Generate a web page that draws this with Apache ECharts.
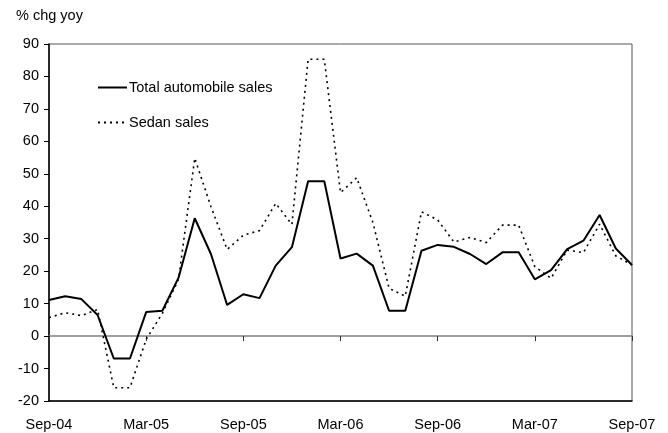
<!DOCTYPE html>
<html>
<head>
<meta charset="utf-8">
<script src="https://cdn.jsdelivr.net/npm/echarts@6/dist/echarts.min.js"></script>
<style>
  html, body { margin: 0; padding: 0; background: #fff; }
  #chart { width: 668px; height: 433px; }
</style>
</head>
<body>
<div id="chart"></div>
<script>
// Monthly periods, Sep-04 to Sep-07
const months = [
  'Sep-04','Oct-04','Nov-04','Dec-04','Jan-05','Feb-05','Mar-05','Apr-05','May-05','Jun-05','Jul-05','Aug-05',
  'Sep-05','Oct-05','Nov-05','Dec-05','Jan-06','Feb-06','Mar-06','Apr-06','May-06','Jun-06','Jul-06','Aug-06',
  'Sep-06','Oct-06','Nov-06','Dec-06','Jan-07','Feb-07','Mar-07','Apr-07','May-07','Jun-07','Jul-07','Aug-07',
  'Sep-07'
];

// % change year on year
const totalSales = [
  11.1, 12.3, 11.4, 6.5, -6.9, -6.9, 7.4, 7.8, 18.0, 36.3, 25.3, 9.6,
  12.9, 11.7, 21.7, 27.4, 47.7, 47.7, 23.9, 25.4, 21.7, 7.8, 7.8, 26.3,
  28.1, 27.5, 25.3, 22.2, 25.8, 25.8, 17.5, 20.3, 26.8, 29.4, 37.3, 27.0,
  21.9
];
const sedanSales = [
  5.7, 7.2, 6.3, 8.2, -15.9, -15.9, -1.0, 7.0, 17.5, 54.8, 39.9, 26.7,
  31.1, 32.5, 40.9, 34.4, 85.3, 85.3, 44.2, 48.8, 35.0, 14.7, 12.3, 38.3,
  35.8, 29.0, 30.4, 28.8, 34.2, 34.2, 21.4, 17.8, 26.5, 25.7, 34.5, 24.7,
  21.9
];

const seriesNames = ['Total automobile sales', 'Sedan sales'];
const yTitle = '% chg yoy';

const font = 'Liberation Sans, Arial, sans-serif';
const fs = 14.5;
const chart = echarts.init(document.getElementById('chart'), null, { renderer: 'canvas' });

chart.setOption({
  animation: false,
  backgroundColor: '#ffffff',
  title: {
    text: yTitle,
    left: 11, top: 3,
    textStyle: { fontFamily: font, fontSize: fs, fontWeight: 'normal', color: '#000' }
  },
  legend: {
    orient: 'vertical',
    left: 97, top: 80, padding: 0,
    itemWidth: 29, itemHeight: 14, itemGap: 20,
    itemStyle: { opacity: 0, color: 'transparent', borderWidth: 0 },
    textStyle: { fontFamily: font, fontSize: fs, color: '#000', padding: [0, 0, 0, -3] },
    data: seriesNames
  },
  grid: {
    left: 49, right: 36, top: 44, bottom: 32,
    show: true, borderColor: '#555', borderWidth: 1
  },
  xAxis: [
    {
      type: 'category', data: months, boundaryGap: false, position: 'bottom',
      axisLine: { onZero: false, lineStyle: { color: '#000', width: 1.5 } },
      axisTick: { show: false },
      axisLabel: {
        interval: 5, margin: 16, color: '#000', fontFamily: font, fontSize: fs,
        showMinLabel: true, showMaxLabel: true
      },
      splitLine: { show: false }
    },
    {
      type: 'category', data: months, boundaryGap: false, position: 'bottom',
      axisLine: { onZero: true, lineStyle: { color: '#808080', width: 1.5 } },
      axisTick: { show: true, interval: 5, length: 5, lineStyle: { color: '#333' } },
      axisLabel: { show: false },
      splitLine: { show: false }
    }
  ],
  yAxis: {
    type: 'value', min: -20, max: 90, interval: 10,
    axisLine: { show: true, onZero: false, lineStyle: { color: '#000', width: 1.5 } },
    axisTick: { show: true, length: 5, lineStyle: { color: '#000' } },
    axisLabel: { color: '#000', fontFamily: font, fontSize: fs, margin: 10 },
    splitLine: { show: false }
  },
  series: [
    {
      name: seriesNames[0], type: 'line', data: totalSales, xAxisIndex: 0,
      symbol: 'none', z: 3,
      lineStyle: { color: '#000', width: 2, type: 'solid' },
      itemStyle: { color: '#000' }
    },
    {
      name: seriesNames[1], type: 'line', data: sedanSales, xAxisIndex: 0,
      symbol: 'none', z: 2,
      lineStyle: { color: '#000', width: 1.6, type: [2, 4] },
      itemStyle: { color: '#000' }
    }
  ]
});
</script>
</body>
</html>
